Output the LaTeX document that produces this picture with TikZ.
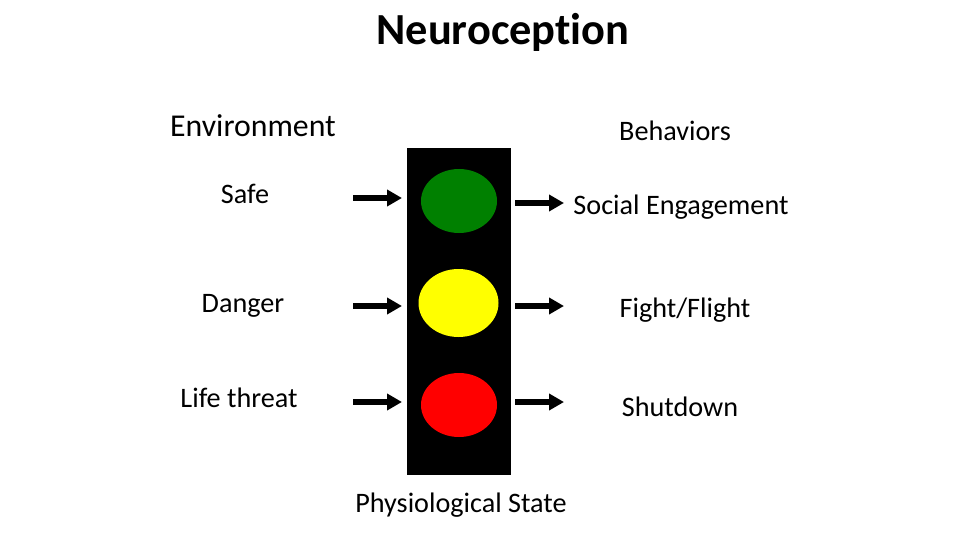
\documentclass[tikz,border=0pt]{standalone}
\usepackage{fontspec}
\setmainfont{Carlito}[Ligatures=NoCommon]
\usetikzlibrary{shapes.geometric,arrows.meta}
\definecolor{lgreen}{RGB}{0,128,0}
\definecolor{lyellow}{RGB}{255,255,0}
\definecolor{lred}{RGB}{255,0,0}
\tikzset{
  lbl/.style={anchor=base,inner sep=0pt,font=\fontsize{28.2}{32}\selectfont},
  lamp/.style={ellipse,draw=none,inner sep=0pt,minimum width=#1},
  bigarrow/.style={line width=6pt,-{Triangle[length=15pt,width=16pt]}},
}
\begin{document}
\begin{tikzpicture}[x=1pt,y=-1pt]
\useasboundingbox (0,0) rectangle (960,540);
\fill[white] (0,0) rectangle (960,540);
% title
\node[anchor=base,inner sep=0pt,font=\fontsize{44.4}{50}\bfseries] (title) at (503,45) {Neuroception};
% traffic light body
\node[fill=black,draw=none,inner sep=0pt,minimum width=104pt,minimum height=327pt] (body) at (459,311.5) {};
\node[lamp=76pt,minimum height=64pt,fill=lgreen] (green) at (459,201) {};
\node[lamp=80pt,minimum height=68pt,fill=lyellow] (yellow) at (458.5,303) {};
\node[lamp=76pt,minimum height=64pt,fill=lred] (red) at (459,405) {};
% labels
\node[lbl,font=\fontsize{31.8}{36}\selectfont] (env) at (253,137) {Environment};
\node[lbl] (beh) at (675,141) {Behaviors};
\node[lbl] (safe) at (245,203) {Safe};
\node[lbl] (social) at (681,214) {Social Engagement};
\node[lbl] (danger) at (243,312) {Danger};
\node[lbl] (fight) at (685,317) {Fight/Flight};
\node[lbl] (life) at (239,407) {Life threat};
\node[lbl] (shut) at (680,416) {Shutdown};
\node[lbl] (phys) at (461,512) {Physiological State};
% arrow end points
\coordinate (a1s) at (353,198); \coordinate (a1e) at (402,198);
\coordinate (b1s) at (515,203); \coordinate (b1e) at (564,203);
\coordinate (a2s) at (353,306); \coordinate (a2e) at (402,306);
\coordinate (b2s) at (515,306); \coordinate (b2e) at (564,306);
\coordinate (a3s) at (353,402); \coordinate (a3e) at (402,402);
\coordinate (b3s) at (515,402); \coordinate (b3e) at (564,402);
\draw[bigarrow] (a1s) -- (a1e);
\draw[bigarrow] (b1s) -- (b1e);
\draw[bigarrow] (a2s) -- (a2e);
\draw[bigarrow] (b2s) -- (b2e);
\draw[bigarrow] (a3s) -- (a3e);
\draw[bigarrow] (b3s) -- (b3e);
\end{tikzpicture}
\end{document}
